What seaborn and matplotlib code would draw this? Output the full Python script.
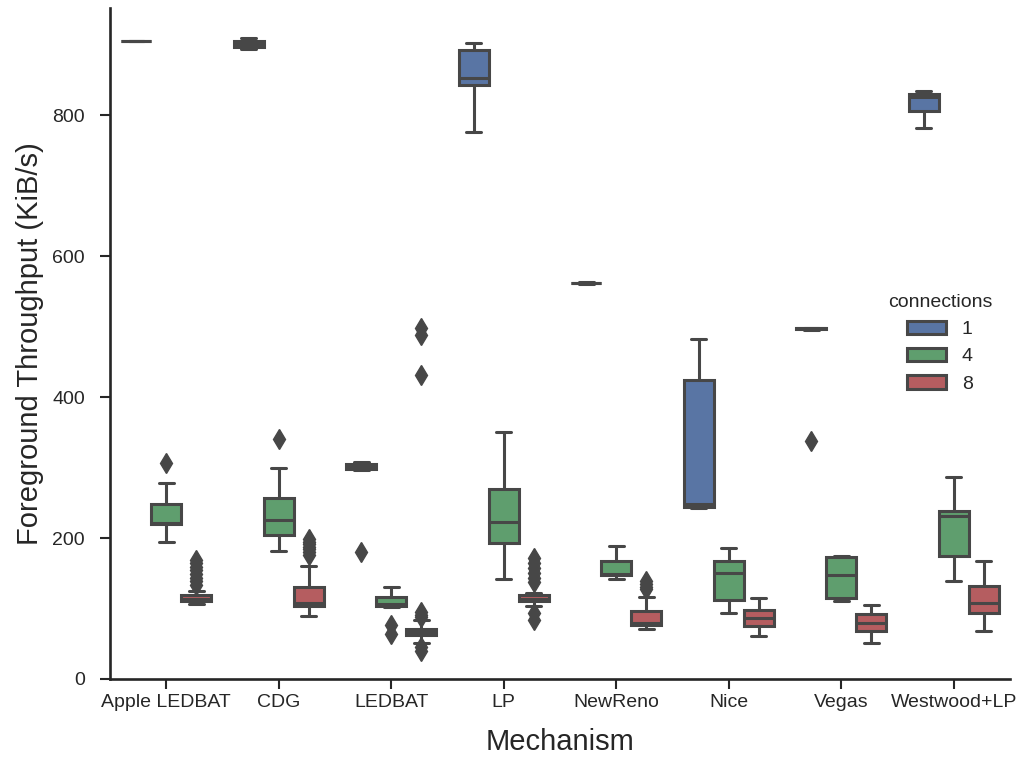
import matplotlib
matplotlib.use("Agg")
import matplotlib.pyplot as plt
import seaborn as sns
import pandas as pd

mechanisms = ["Apple LEDBAT", "CDG", "LEDBAT", "LP", "NewReno", "Nice", "Vegas", "Westwood+LP"]
connections = ["1", "4", "8"]

# Foreground throughput samples (KiB/s) per mechanism and connection count
apple_1 = [905, 905, 905, 905, 905]
apple_4 = [195, 210, 220, 221, 222, 240, 249, 278, 306]
apple_8 = [107, 108, 108, 109, 109, 110, 110, 110, 111,
           111, 111, 112, 112, 112, 113, 113, 113, 114,
           114, 115, 115, 116, 116, 117, 118, 118, 119,
           119.5, 125, 134, 139, 144, 149, 154, 159, 164, 169]

cdg_1 = [894, 896, 897, 899, 901, 903, 906, 908, 909.5]
cdg_4 = [181, 195, 204, 215, 225, 240, 257, 300, 341]
cdg_8 = [89, 92, 95, 97, 99, 100, 101, 102, 103,
         104, 105, 106, 106, 107, 107, 108, 108.5,
         110, 112, 115, 118, 122, 125, 128, 131,
         161, 176, 180, 184, 188, 191, 194, 198]

ledbat_1 = [180, 296, 298.5, 300, 301, 303, 304.5, 306, 308]
ledbat_4 = [64, 77, 102, 104, 105, 106, 107, 110, 113, 116, 120, 126, 131]
ledbat_8 = [40, 45, 51, 55, 58, 60, 61, 62,
            63, 63, 64, 64, 65, 65, 66,
            67, 68, 68, 69, 70, 71, 71.5,
            83, 88, 91, 95, 431, 488, 498]

lp_1 = [777, 830, 843, 848, 853, 870, 893, 898, 902.5]
lp_4 = [142, 170, 193, 210, 222.5, 245, 270, 310, 350.5]
lp_8 = [83, 93, 104, 106, 107, 108, 109, 110,
        110, 111, 111, 112, 112, 113, 113,
        114, 115, 116, 117, 118, 118, 119,
        121.5, 137, 144, 151, 158, 165, 172]

newreno_1 = [561, 561.5, 562, 562.5, 563]
newreno_4 = [141.5, 144, 147, 148, 148.5, 158, 167, 178, 189]
newreno_8 = [71.5, 73, 74, 75, 76, 76.5, 77, 78, 78, 79, 80,
             84, 88, 91, 94, 96, 117, 127, 131, 135, 139]

nice_1 = [242.5, 243, 244, 246, 249, 330, 424, 455, 483]
nice_4 = [93, 100, 112, 135, 150, 160, 168, 178, 185.5]
nice_8 = [61, 68, 75.5, 82, 86.5, 92, 97.5, 108, 115.5]

vegas_1 = [338, 496, 497, 497, 497.5, 498, 498, 498, 498.5]
vegas_4 = [110, 113, 115.5, 130, 147.5, 160, 172.5, 174, 175]
vegas_8 = [50.5, 60, 68.5, 74, 79.5, 86, 92, 99, 105.5]

westwood_1 = [781.5, 795, 806, 815, 826, 828, 831, 832, 834]
westwood_4 = [139.5, 160, 174, 200, 232, 236, 239, 262, 287]
westwood_8 = [68.5, 82, 93.5, 100, 108.5, 120, 131.5, 150, 168]

groups = [
    ("Apple LEDBAT", "1", apple_1), ("Apple LEDBAT", "4", apple_4), ("Apple LEDBAT", "8", apple_8),
    ("CDG", "1", cdg_1), ("CDG", "4", cdg_4), ("CDG", "8", cdg_8),
    ("LEDBAT", "1", ledbat_1), ("LEDBAT", "4", ledbat_4), ("LEDBAT", "8", ledbat_8),
    ("LP", "1", lp_1), ("LP", "4", lp_4), ("LP", "8", lp_8),
    ("NewReno", "1", newreno_1), ("NewReno", "4", newreno_4), ("NewReno", "8", newreno_8),
    ("Nice", "1", nice_1), ("Nice", "4", nice_4), ("Nice", "8", nice_8),
    ("Vegas", "1", vegas_1), ("Vegas", "4", vegas_4), ("Vegas", "8", vegas_8),
    ("Westwood+LP", "1", westwood_1), ("Westwood+LP", "4", westwood_4), ("Westwood+LP", "8", westwood_8),
]
rows = []
for mech, conn, vals in groups:
    for v in vals:
        rows.append({"Mechanism": mech, "connections": conn, "throughput": v})
df = pd.DataFrame(rows)

sns.set_theme(style="ticks")
plt.rcParams["font.family"] = ["Liberation Sans", "DejaVu Sans"]
plt.rcParams["axes.linewidth"] = 1.9
plt.rcParams["xtick.major.width"] = 1.5
plt.rcParams["ytick.major.width"] = 1.5
plt.rcParams["xtick.major.size"] = 7
plt.rcParams["ytick.major.size"] = 7
plt.rcParams["axes.edgecolor"] = "#262626"

palette = ["#4C72B0", "#55A868", "#C44E52"]

fig = plt.figure(figsize=(10.18, 7.62), dpi=100)
ax = fig.add_axes([0.108, 0.109, 0.884, 0.881])

sns.boxplot(
    data=df, x="Mechanism", y="throughput", hue="connections",
    order=mechanisms, hue_order=connections, palette=palette,
    saturation=0.75, width=0.8, gap=0, linewidth=2.2, linecolor="#474747",
    flierprops=dict(marker="d", markersize=10, markerfacecolor="#474747",
                    markeredgecolor="#474747"),
    ax=ax,
)

ax.set_ylim(0, 953)
ax.set_yticks([0, 200, 400, 600, 800])
ax.set_xlabel("Mechanism", fontsize=21, labelpad=12)
ax.set_ylabel("Foreground Throughput (KiB/s)", fontsize=21, labelpad=6)
ax.tick_params(axis="both", labelsize=14, color="#262626")
ax.tick_params(axis="x", pad=4)
ax.tick_params(axis="y", pad=11)
sns.despine(ax=ax)

sns.move_legend(ax, "center right", bbox_to_anchor=(1.0, 0.5), frameon=False,
                title="connections", fontsize=14, title_fontsize=14)

fig.savefig("out.png", dpi=100)
